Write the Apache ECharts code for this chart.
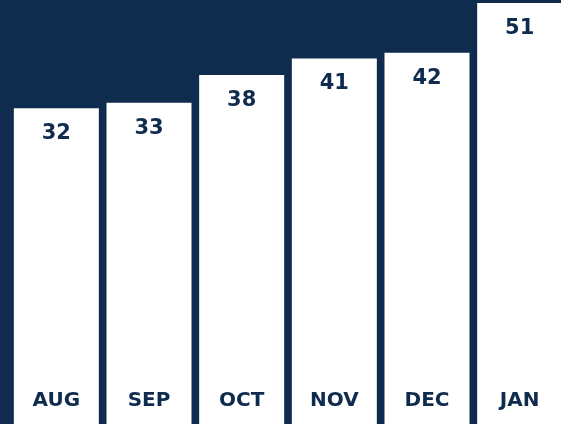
<!DOCTYPE html>
<html>
<head>
<meta charset="utf-8">
<script src="https://cdn.jsdelivr.net/npm/echarts@6/dist/echarts.min.js"></script>
<style>
  html, body { margin: 0; padding: 0; background: #0f2b4e; overflow: hidden; }
  /* the last bar runs off the right edge in the original */
  #chart { width: 566px; height: 424px; }
</style>
</head>
<body>
<div id="chart"></div>
<script>
const months = ['AUG', 'SEP', 'OCT', 'NOV', 'DEC', 'JAN']
const counts = [32, 33, 38, 41, 42, 51]

const navy = '#0f2b4e'
const chart = echarts.init(document.getElementById('chart'))

// bars are not drawn from zero in the original, so the value axis starts below it
chart.setOption({
    backgroundColor: navy,
    animation: false,
    grid: { left: 10, right: 0, top: 3, bottom: 0 },
    xAxis: {
        type: 'category',
        data: months,
        z: 10,
        axisLine: { show: false },
        axisTick: { show: false },
        axisLabel: {
            inside: true,
            margin: 23,
            verticalAlign: 'middle',
            color: navy,
            fontFamily: 'DejaVu Sans',
            fontWeight: 'bold',
            fontSize: 20
        }
    },
    yAxis: {
        type: 'value',
        min: -25,
        max: 51,
        startValue: -25,
        show: false,
        splitLine: { show: false }
    },
    series: [{
        type: 'bar',
        data: counts,
        barWidth: 85,
        itemStyle: { color: '#ffffff' },
        label: {
            show: true,
            position: 'insideTop',
            distance: 15,
            color: navy,
            fontFamily: 'DejaVu Sans',
            fontWeight: 'bold',
            fontSize: 21
        }
    }]
})
</script>
</body>
</html>
